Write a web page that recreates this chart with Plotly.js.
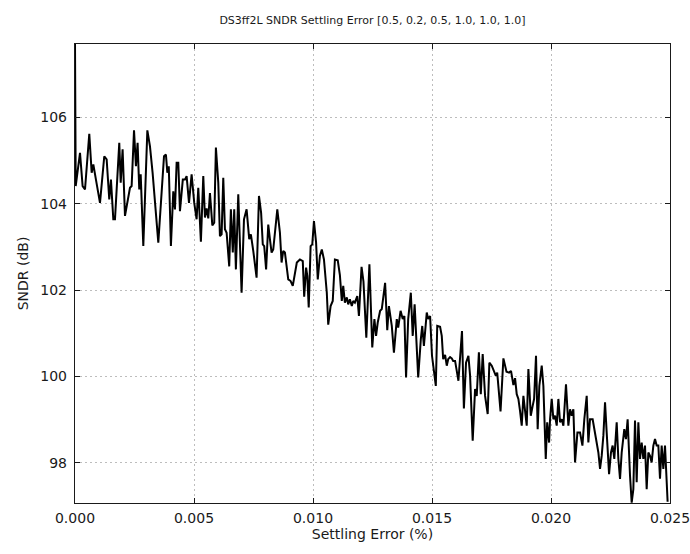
<!DOCTYPE html>
<html>
<head>
<meta charset="utf-8">
<script src="https://cdn.plot.ly/plotly-3.0.1.min.js"></script>
<style>
  html, body { margin: 0; padding: 0; background: #ffffff; }
  #chart { width: 690px; height: 554px; }
</style>
</head>
<body>
<div id="chart"></div>
<script>
// Settling error (%) values
const errPct = [
  0.00000, 0.00003, 0.00021, 0.00032, 0.00042, 0.00060, 0.00070, 0.00077, 0.00088, 0.00105,
  0.00123, 0.00133, 0.00144, 0.00151, 0.00161, 0.00168, 0.00186, 0.00192, 0.00200, 0.00210,
  0.00231, 0.00238, 0.00248, 0.00256, 0.00263, 0.00270, 0.00276, 0.00287, 0.00304, 0.00315,
  0.00326, 0.00350, 0.00374, 0.00382, 0.00388, 0.00394, 0.00403, 0.00413, 0.00420, 0.00427,
  0.00434, 0.00441, 0.00453, 0.00462, 0.00469, 0.00479, 0.00490, 0.00501, 0.00511, 0.00518,
  0.00529, 0.00539, 0.00546, 0.00553, 0.00560, 0.00567, 0.00577, 0.00585, 0.00592, 0.00602,
  0.00609, 0.00616, 0.00623, 0.00630, 0.00637, 0.00648, 0.00655, 0.00663, 0.00669, 0.00676,
  0.00686, 0.00700, 0.00710, 0.00721, 0.00732, 0.00739, 0.00749, 0.00763, 0.00773, 0.00782,
  0.00789, 0.00795, 0.00803, 0.00812, 0.00819, 0.00826, 0.00833, 0.00850, 0.00861, 0.00868,
  0.00875, 0.00882, 0.00896, 0.00906, 0.00915, 0.00932, 0.00945, 0.00957, 0.00963, 0.00971,
  0.00976, 0.00982, 0.00990, 0.00997, 0.01004, 0.01013, 0.01020, 0.01029, 0.01037, 0.01046,
  0.01058, 0.01064, 0.01074, 0.01083, 0.01092, 0.01104, 0.01113, 0.01121, 0.01127, 0.01134,
  0.01142, 0.01148, 0.01155, 0.01163, 0.01169, 0.01176, 0.01186, 0.01193, 0.01204, 0.01212,
  0.01224, 0.01237, 0.01249, 0.01258, 0.01265, 0.01272, 0.01282, 0.01289, 0.01303, 0.01312,
  0.01319, 0.01331, 0.01340, 0.01352, 0.01358, 0.01368, 0.01377, 0.01384, 0.01391, 0.01400,
  0.01411, 0.01419, 0.01427, 0.01442, 0.01453, 0.01459, 0.01466, 0.01478, 0.01484, 0.01492,
  0.01500, 0.01516, 0.01522, 0.01534, 0.01541, 0.01547, 0.01555, 0.01562, 0.01568, 0.01576,
  0.01583, 0.01589, 0.01597, 0.01611, 0.01626, 0.01634, 0.01643, 0.01653, 0.01660, 0.01671,
  0.01681, 0.01688, 0.01697, 0.01705, 0.01713, 0.01723, 0.01734, 0.01741, 0.01751, 0.01758,
  0.01768, 0.01774, 0.01788, 0.01800, 0.01813, 0.01824, 0.01832, 0.01842, 0.01849, 0.01856,
  0.01863, 0.01870, 0.01877, 0.01884, 0.01891, 0.01898, 0.01905, 0.01915, 0.01923, 0.01929,
  0.01937, 0.01944, 0.01951, 0.01961, 0.01968, 0.01978, 0.01984, 0.01992, 0.01996, 0.02003,
  0.02010, 0.02017, 0.02024, 0.02031, 0.02038, 0.02045, 0.02052, 0.02063, 0.02073, 0.02080,
  0.02087, 0.02094, 0.02101, 0.02111, 0.02122, 0.02132, 0.02140, 0.02150, 0.02157, 0.02164,
  0.02175, 0.02182, 0.02192, 0.02199, 0.02206, 0.02213, 0.02220, 0.02227, 0.02234, 0.02244,
  0.02252, 0.02259, 0.02266, 0.02276, 0.02283, 0.02290, 0.02297, 0.02308, 0.02315, 0.02322,
  0.02332, 0.02339, 0.02346, 0.02353, 0.02360, 0.02367, 0.02374, 0.02381, 0.02388, 0.02395,
  0.02402, 0.02409, 0.02416, 0.02423, 0.02430, 0.02437, 0.02444, 0.02451, 0.02458, 0.02465,
  0.02472, 0.02479, 0.02490
];

// SNDR (dB) values
const sndrDb = [
  107.70, 104.41, 105.18, 104.41, 104.33, 105.62, 104.72, 104.91, 104.56, 104.02,
  105.10, 105.03, 104.10, 104.56, 103.64, 103.64, 105.41, 104.49, 105.26, 103.72,
  104.37, 104.41, 105.70, 104.87, 105.41, 104.33, 104.68, 103.02, 105.70, 105.33,
  104.72, 103.10, 105.10, 105.14, 104.72, 104.87, 103.02, 104.29, 103.87, 104.95,
  104.95, 103.83, 104.56, 104.56, 104.64, 104.02, 104.68, 104.02, 103.64, 104.37,
  103.12, 104.64, 103.68, 103.89, 103.66, 104.25, 103.50, 103.56, 105.30, 104.49,
  103.25, 103.29, 104.60, 103.41, 103.33, 102.55, 103.87, 102.87, 103.87, 102.48,
  104.22, 101.94, 103.64, 103.87, 103.18, 103.29, 102.91, 102.29, 104.18, 103.79,
  103.06, 103.02, 102.48, 103.52, 103.18, 102.87, 102.94, 103.87, 103.33, 102.64,
  102.91, 102.87, 102.25, 102.21, 102.10, 102.64, 102.71, 102.67, 101.85, 102.52,
  102.33, 101.60, 103.02, 103.06, 103.60, 103.10, 102.25, 102.79, 102.94, 102.71,
  101.94, 101.20, 101.63, 101.75, 102.71, 102.69, 102.35, 101.75, 102.10, 101.71,
  101.83, 101.67, 101.79, 101.63, 101.75, 101.71, 101.86, 101.40, 102.54, 102.20,
  100.90, 102.60, 100.67, 101.33, 100.94, 101.25, 101.52, 101.56, 102.17, 101.07,
  101.63, 101.17, 100.55, 101.33, 101.13, 101.52, 101.33, 101.40, 99.98, 101.33,
  101.94, 100.94, 101.67, 99.98, 100.86, 101.17, 100.71, 101.48, 101.33, 101.40,
  100.48, 99.78, 101.17, 101.15, 100.94, 100.40, 100.50, 100.25, 100.40, 100.45,
  100.42, 100.36, 100.36, 99.90, 101.05, 99.26, 100.32, 100.48, 100.02, 98.51,
  99.71, 99.55, 100.56, 99.59, 100.52, 99.55, 99.13, 100.32, 100.25, 100.17,
  100.02, 100.09, 99.19, 100.42, 100.11, 100.09, 100.13, 99.80, 99.96, 99.59,
  99.48, 99.20, 98.86, 99.55, 99.24, 98.86, 100.17, 99.09, 99.32, 99.48,
  100.48, 98.78, 99.78, 100.25, 99.78, 98.09, 98.94, 98.47, 99.01, 99.48,
  99.01, 99.09, 98.86, 99.48, 98.94, 99.01, 98.86, 99.82, 98.86, 99.24,
  99.09, 99.24, 98.01, 98.70, 98.70, 98.40, 99.01, 99.55, 98.47, 99.01,
  99.01, 98.78, 98.47, 98.24, 97.86, 98.16, 98.63, 99.40, 98.70, 97.74,
  98.24, 98.40, 98.09, 98.94, 98.09, 97.63, 98.24, 98.78, 98.55, 99.01,
  97.70, 97.08, 97.39, 98.98, 97.55, 98.94, 98.09, 98.47, 98.09, 98.40,
  97.39, 98.24, 98.16, 98.01, 98.40, 98.55, 98.40, 98.40, 97.63, 98.40,
  97.86, 98.40, 97.10
];

const xTickVals = [0.000, 0.005, 0.010, 0.015, 0.020, 0.025];
const xTickText = ['0.000', '0.005', '0.010', '0.015', '0.020', '0.025'];
const yTickVals = [98, 100, 102, 104, 106];
const yTickText = ['98', '100', '102', '104', '106'];

const FONT = 'DejaVu Sans, Liberation Sans, sans-serif';

const trace = {
  x: errPct,
  y: sndrDb,
  type: 'scatter',
  mode: 'lines',
  line: { color: '#000000', width: 2 },
  hoverinfo: 'skip'
};

const axisCommon = {
  showline: true,
  linecolor: '#1a1a1a',
  linewidth: 1.2,
  mirror: 'ticks',
  ticks: 'inside',
  ticklen: 5,
  tickwidth: 1,
  tickcolor: '#1a1a1a',
  showgrid: true,
  gridcolor: '#bdbdbd',
  gridwidth: 1,
  griddash: '2px,3px',
  zeroline: false,
  automargin: false,
  ticklabeloverflow: 'allow',
  tickfont: { family: FONT, size: 14, color: '#1a1a1a' }
};

const layout = {
  width: 690,
  height: 554,
  paper_bgcolor: '#ffffff',
  plot_bgcolor: '#ffffff',
  margin: { l: 75, r: 20, t: 44, b: 51 },
  showlegend: false,
  font: { family: FONT, color: '#1a1a1a' },
  title: {
    text: 'DS3ff2L SNDR Settling Error [0.5, 0.2, 0.5, 1.0, 1.0, 1.0]',
    font: { family: FONT, size: 11, color: '#1a1a1a' },
    x: 0.5, xref: 'paper', xanchor: 'center',
    y: 1 - 20 / 554, yref: 'container', yanchor: 'middle'
  },
  xaxis: Object.assign({}, axisCommon, {
    range: [-1e-9, 0.025 + 1e-9],
    tickmode: 'array',
    tickvals: xTickVals,
    ticktext: xTickText,
    ticklabelstandoff: 2,
    title: { text: 'Settling Error (%)', font: { family: FONT, size: 14, color: '#1a1a1a' }, standoff: 4 }
  }),
  yaxis: Object.assign({}, axisCommon, {
    range: [97.07, 107.7],
    tickmode: 'array',
    tickvals: yTickVals,
    ticktext: yTickText,
    ticklabelstandoff: 4,
    title: { text: 'SNDR (dB)', font: { family: FONT, size: 14, color: '#1a1a1a' }, standoff: 8 }
  })
};

Plotly.newPlot('chart', [trace], layout, { staticPlot: true, displayModeBar: false });
</script>
</body>
</html>
